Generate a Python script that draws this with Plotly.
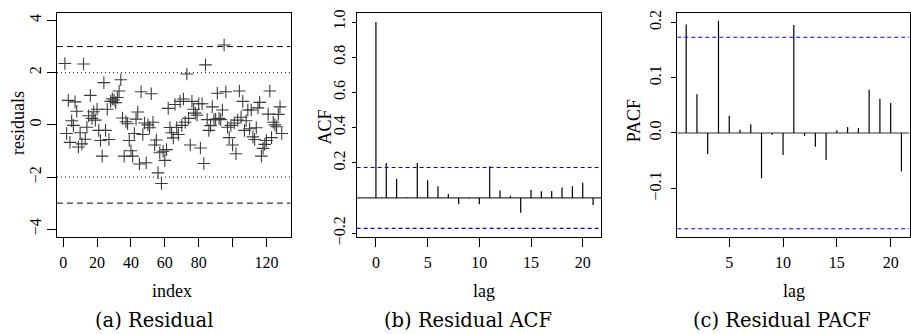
import plotly.graph_objects as go

# ---------------- data ----------------
residuals = [
    2.35, -0.33, 0.94, -0.67, 0.16, -0.02, 0.88, 0.52, -0.85, -0.30,
    -0.73, 2.33, -0.55, -0.09, 0.35, 1.13, 0.25, 0.50, 0.18, 0.60,
    -0.21, -0.60, -1.20, 1.62, -0.21, 0.60, -0.56, 0.90, 1.00, 0.95,
    0.85, 1.05, 1.30, 1.73, 0.26, -1.20, 0.12, 0.04, -0.60, -0.99,
    -1.20, -0.33, 0.22, 0.49, -1.50, 1.27, -0.37, 0.07, -1.45, 0.00,
    -0.11, 1.19, 0.10, -0.77, -0.58, -1.84, -1.07, -2.25, -1.01, -1.36,
    -0.95, 0.63, -0.10, -0.30, -0.50, 0.78, -0.10, -0.37, 0.90, -0.02,
    0.99, 0.10, 1.95, 0.25, -0.77, 0.90, 0.60, 0.45, 0.37, 0.81,
    -0.89, 0.81, -1.48, 2.30, 0.20, -0.21, -0.03, 0.69, 0.20, 0.22,
    1.21, 0.25, 0.20, 0.57, 3.06, 1.27, -0.09, -0.49, -0.02, -0.77,
    0.07, -1.11, 0.18, 1.30, 0.29, 0.90, -0.21, 0.16, 0.57, -0.15,
    0.57, -0.46, -0.56, -0.11, 0.65, 0.86, -1.20, -0.90, -0.75, -0.60,
    0.41, 1.30, -0.49, 0.10, 0.00, -0.07, 0.40, 0.69, -0.33,
]
index = list(range(1, len(residuals) + 1))

acf_lags = list(range(0, 22))
acf_vals = [1.0, 0.199, 0.109, 0.003, 0.199, 0.100, 0.066, 0.022, -0.036, -0.003,
            -0.036, 0.180, 0.044, 0.013, -0.084, 0.046, 0.038, 0.040, 0.060, 0.067,
            0.086, -0.040]

pacf_lags = list(range(1, 22))
pacf_vals = [0.196, 0.070, -0.038, 0.203, 0.031, 0.006, 0.016, -0.082, -0.003, -0.040,
             0.195, -0.005, -0.025, -0.049, 0.005, 0.011, 0.009, 0.078, 0.062, 0.054,
             -0.069]

ci = 0.173
dashed_levels = [3, -3]
dotted_levels = [2, -2]

res_xticks = [0, 20, 40, 60, 80, 100, 120]
res_xticklabels = ["0", "20", "40", "60", "80", "", "120"]
res_yticks = [-4, -2, 0, 2, 4]
res_yticklabels = ["\u22124", "\u22122", "0", "2", "4"]
acf_xticks = [0, 5, 10, 15, 20]
acf_yticks = [-0.2, 0.2, 0.4, 0.6, 0.8, 1.0]
acf_yticklabels = ["\u22120.2", "0.2", "0.4", "0.6", "0.8", "1.0"]
pacf_xticks = [5, 10, 15, 20]
pacf_yticks = [-0.1, 0.0, 0.1, 0.2]
pacf_yticklabels = ["\u22120.1", "0.0", "0.1", "0.2"]

captions = ["(a) Residual", "(b) Residual ACF", "(c) Residual PACF"]

# ---------------- layout helpers ----------------
W, H = 911, 334
def fx(px):
    return px / W
def fy(py):
    return 1 - py / H

SERIF = "Liberation Serif, Times New Roman, serif"
TICKFONT = dict(family=SERIF, size=16, color="black")
TITLEFONT = dict(family=SERIF, size=18, color="black")
CAPFONT = dict(family="DejaVu Serif, serif", size=19.5, color="black")

# x-ranges of the three panels (data units)
r1x = [-3.7, 134.3]
r2x = [-1.87, 21.8]
r3x = [0.17, 21.75]

fig = go.Figure()

def hline(level, rx, xa, ya, color, dash, width=1.0):
    fig.add_trace(go.Scatter(x=[rx[0], rx[1]], y=[level, level], mode="lines",
                             line=dict(color=color, width=width, dash=dash),
                             xaxis=xa, yaxis=ya, showlegend=False, hoverinfo="skip"))

# panel (a) reference lines
for lv in dashed_levels:
    hline(lv, r1x, "x", "y", "black", "6px,4px")
for lv in dotted_levels:
    hline(lv, r1x, "x", "y", "black", "1px,3px")

# panel (a): residual scatter
fig.add_trace(go.Scatter(
    x=index, y=residuals, mode="markers",
    marker=dict(symbol="cross-thin", size=9, line=dict(width=1.1, color="#3a3a3a")),
    xaxis="x", yaxis="y", showlegend=False))

def stems(xs, ys):
    sx, sy = [], []
    for a, b in zip(xs, ys):
        sx += [a, a, None]
        sy += [0, b, None]
    return sx, sy

# panels (b), (c): zero line + confidence bounds + stems
for ax, rx, lags, vals in [("2", r2x, acf_lags, acf_vals), ("3", r3x, pacf_lags, pacf_vals)]:
    hline(0, rx, f"x{ax}", f"y{ax}", "#333333", "solid", 1.2)
    sx, sy = stems(lags, vals)
    fig.add_trace(go.Scatter(x=sx, y=sy, mode="lines", line=dict(color="black", width=1.2),
                             xaxis=f"x{ax}", yaxis=f"y{ax}", showlegend=False))
    for lv in [ci, -ci]:
        hline(lv, rx, f"x{ax}", f"y{ax}", "rgb(0,0,255)", "4px,3px", 1.1)

def axis_common(ticklen=9):
    return dict(showline=True, mirror=True, linecolor="black", linewidth=1,
                ticks="outside", ticklen=ticklen, tickcolor="black", tickwidth=1,
                showgrid=False, zeroline=False, tickfont=TICKFONT)

layout = dict(
    width=W, height=H, margin=dict(l=0, r=0, t=0, b=0, pad=0),
    paper_bgcolor="white", plot_bgcolor="white",
    font=dict(family=SERIF, size=16, color="black"),
    xaxis=dict(domain=[fx(57), fx(291)], range=r1x, tickvals=res_xticks,
               ticktext=res_xticklabels, anchor="y", ticklabelstandoff=2, **axis_common()),
    yaxis=dict(domain=[fy(242), fy(10)], range=[-4.3, 4.3], tickvals=res_yticks,
               ticktext=res_yticklabels, tickangle=-90, anchor="x", **axis_common()),
    xaxis2=dict(domain=[fx(357), fx(602)], range=r2x, tickvals=acf_xticks,
                anchor="y2", ticklabelstandoff=2, **axis_common()),
    yaxis2=dict(domain=[fy(242), fy(10)], range=[-0.222, 1.053], tickvals=acf_yticks,
                ticktext=acf_yticklabels, tickangle=-90, anchor="x2", **axis_common(4)),
    xaxis3=dict(domain=[fx(678), fx(910.5)], range=r3x, tickvals=pacf_xticks,
                anchor="y3", ticklabelstandoff=2, **axis_common()),
    yaxis3=dict(domain=[fy(242), fy(10)], range=[-0.188, 0.2174], tickvals=pacf_yticks,
                ticktext=pacf_yticklabels, tickangle=-90, anchor="x3",
                ticklabelstandoff=4, **axis_common(5)),
)

ann = []
def add_text(text, x, y, font, angle=0):
    ann.append(dict(text=text, x=fx(x), y=fy(y), xref="paper", yref="paper",
                    showarrow=False, font=font, textangle=angle,
                    xanchor="center", yanchor="middle"))

add_text("residuals", 18, 124, TITLEFONT, -90)
add_text("ACF", 325, 128, TITLEFONT, -90)
add_text("PACF", 635, 122, TITLEFONT, -90)
add_text("index", 172, 298, TITLEFONT)
add_text("lag", 485, 298, TITLEFONT)
add_text("lag", 795, 298, TITLEFONT)
add_text(captions[0], 154, 328, CAPFONT)
add_text(captions[1], 469, 328, CAPFONT)
add_text(captions[2], 783, 328, CAPFONT)
layout["annotations"] = ann

fig.update_layout(**layout)
fig.write_html("out.html", config={"displayModeBar": False, "staticPlot": True},
               post_script="document.body.style.margin='0';document.body.style.padding='0';")
